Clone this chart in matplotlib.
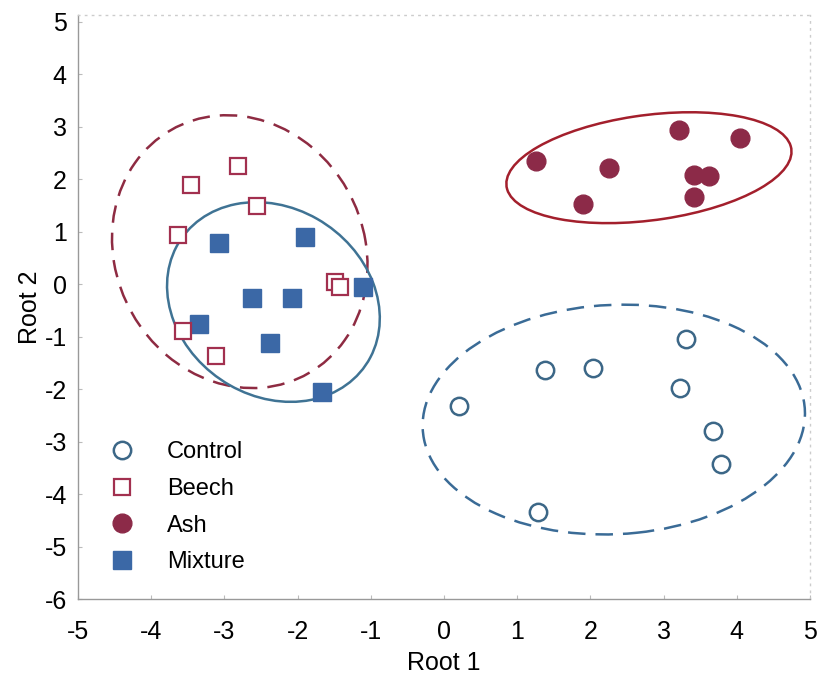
import matplotlib
matplotlib.use("Agg")
import matplotlib.pyplot as plt
from matplotlib.patches import Ellipse

plt.rcParams['font.family'] = ['Liberation Sans', 'DejaVu Sans']
plt.rcParams['axes.unicode_minus'] = False

# ---- data ----
control_x = [0.21, 1.38, 2.03, 3.30, 3.23, 3.68, 3.78, 1.29]
control_y = [-2.32, -1.63, -1.60, -1.04, -1.98, -2.80, -3.43, -4.34]

beech_x = [-2.82, -3.45, -2.56, -3.64, -1.49, -1.42, -3.56, -3.11]
beech_y = [2.25, 1.89, 1.49, 0.94, 0.04, -0.06, -0.89, -1.36]

ash_x = [1.26, 2.26, 1.90, 3.21, 4.05, 3.41, 3.62, 3.41]
ash_y = [2.35, 2.22, 1.53, 2.94, 2.79, 2.08, 2.06, 1.66]

mix_x = [-3.08, -1.90, -2.62, -2.07, -1.11, -3.34, -2.38, -1.66]
mix_y = [0.79, 0.90, -0.26, -0.26, -0.05, -0.76, -1.12, -2.05]

# ellipses: center x, center y, width, height, angle (deg)
ell_names = ['Control', 'Beech', 'Ash', 'Mixture']
ell_cx = [2.32, -2.79, 2.80, -2.33]
ell_cy = [-2.58, 0.62, 2.22, -0.34]
ell_w = [5.24, 5.22, 3.96, 3.87]
ell_h = [4.36, 3.46, 1.99, 2.82]
ell_ang = [8.3, 96.8, 12.0, 105.4]

xticks = [-5, -4, -3, -2, -1, 0, 1, 2, 3, 4, 5]
yticks = [-6, -5, -4, -3, -2, -1, 0, 1, 2, 3, 4, 5]

# ---- styles ----
c_control = '#3c6787'
c_beech = '#a2304f'
c_ash = '#8c2a48'
c_mix = '#3b68a6'
ell_colors = ['#3a6b96', '#8e2b42', '#a31f2c', '#3f7394']
ell_styles = [(0, (7, 4)), (0, (7, 4)), '-', '-']

fig = plt.figure(figsize=(8.26, 6.82), dpi=100)
ax = fig.add_axes([0.0944, 0.1217, 0.8862, 0.8563])

for cx, cy, w, h, a, col, ls in zip(ell_cx, ell_cy, ell_w, ell_h, ell_ang, ell_colors, ell_styles):
    ax.add_patch(Ellipse((cx, cy), w, h, angle=a, fill=False, edgecolor=col,
                         linewidth=1.8, linestyle=ls, zorder=2))

h1, = ax.plot(control_x, control_y, 'o', linestyle='none', markersize=12.5,
              markerfacecolor='white', markeredgecolor=c_control, markeredgewidth=1.8,
              label='Control', zorder=3)
h2, = ax.plot(beech_x, beech_y, 's', linestyle='none', markersize=12,
              markerfacecolor='white', markeredgecolor=c_beech, markeredgewidth=1.6,
              label='Beech', zorder=4)
h3, = ax.plot(ash_x, ash_y, 'o', linestyle='none', markersize=13.5,
              markerfacecolor=c_ash, markeredgecolor=c_ash, label='Ash', zorder=3)
h4, = ax.plot(mix_x, mix_y, 's', linestyle='none', markersize=13,
              markerfacecolor=c_mix, markeredgecolor=c_mix, label='Mixture', zorder=3)

ax.set_xlim(-5, 5)
ax.set_ylim(-6, 5.13)
ax.set_xticks(xticks)
ax.set_yticks(yticks)
ax.tick_params(axis='both', direction='in', length=3, color='#bbbbbb',
               labelsize=18)
ax.tick_params(axis='x', pad=15)
ax.tick_params(axis='y', pad=8)
ax.set_xlabel('Root 1', fontsize=18, labelpad=5)
ax.set_ylabel('Root 2', fontsize=18, labelpad=2)

for s in ['left', 'bottom']:
    ax.spines[s].set_color('#999999')
    ax.spines[s].set_linewidth(1.0)
for s in ['top', 'right']:
    ax.spines[s].set_color('#cccccc')
    ax.spines[s].set_linestyle((0, (1, 4)))
    ax.spines[s].set_linewidth(1.0)

leg = ax.legend(handles=[h1, h2, h3, h4], loc='upper left',
                bbox_to_anchor=(0.031, 0.286), frameon=False, fontsize=17,
                handlelength=1.0, handletextpad=1.4, labelspacing=0.62,
                borderaxespad=0)

fig.savefig('out.png', dpi=100)
